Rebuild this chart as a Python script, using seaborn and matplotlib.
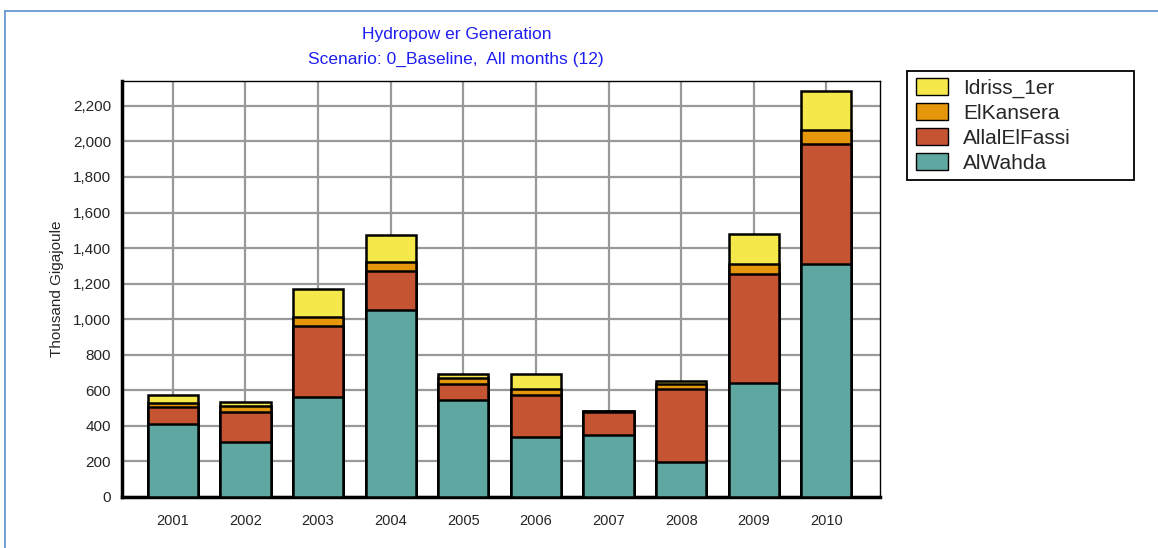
import numpy as np
import pandas as pd
import matplotlib
matplotlib.use("Agg")
import matplotlib.pyplot as plt
from matplotlib.patches import Patch, Rectangle
from matplotlib.lines import Line2D
import seaborn as sns

years = ["2001", "2002", "2003", "2004", "2005", "2006", "2007", "2008", "2009", "2010"]
alwahda = [410, 308, 561, 1050, 546, 340, 347, 197, 640, 1313]
allalelfassi = [95, 169, 403, 223, 90, 232, 133, 413, 615, 672]
elkansera = [25, 37, 49, 47, 32, 36, 2, 25, 56, 79]
idriss = [42, 22, 157, 151, 26, 86, 0, 20, 171, 222]

series_names = ["AlWahda", "AllalElFassi", "ElKansera", "Idriss_1er"]
series_vals = [alwahda, allalelfassi, elkansera, idriss]
colors = ["#5FA8A1", "#C55433", "#E6960B", "#F5E84B"]

sns.set_style("white")
plt.rcParams["font.family"] = ["Liberation Sans", "DejaVu Sans"]

W, H = 1158, 548
fig = plt.figure(figsize=(W / 100, H / 100), dpi=100)
ax = fig.add_axes([0.1054, 0.0931, 0.6546, 0.7591])

cum = np.cumsum(np.array(series_vals, dtype=float), axis=0)
# draw from top stack down so each segment is visible
for i in range(len(series_names) - 1, -1, -1):
    df = pd.DataFrame({"year": years, "value": cum[i]})
    sns.barplot(data=df, x="year", y="value", color=colors[i], width=0.69,
                edgecolor="black", linewidth=1.8, saturation=1, ax=ax, zorder=3)

ax.set_ylim(0, 2340)
ax.set_xlim(-0.70, 9.74)
yt = np.arange(0, 2201, 200)
ax.set_yticks(yt)
ax.set_yticklabels([f"{v:,}" for v in yt], fontsize=11)
ax.tick_params(axis="x", labelsize=10.5, length=6, color="#888888", width=1.5, direction="out", pad=6)
ax.tick_params(axis="y", length=4, color="#888888", width=1, direction="out", pad=4)
ax.set_xlabel("")
ax.set_ylabel("Thousand Gigajoule", fontsize=11, labelpad=6)
ax.grid(True, color="#999999", linewidth=1.6, zorder=0)
ax.set_axisbelow(True)
for side in ["top", "right"]:
    ax.spines[side].set_visible(True)
    ax.spines[side].set_linewidth(1.0)
    ax.spines[side].set_color("black")
for side in ["left", "bottom"]:
    ax.spines[side].set_linewidth(2.5)
    ax.spines[side].set_color("black")

fig.text(0.394, 1 - 35 / H, "Hydropow er Generation", ha="center", va="center",
         color="#1E1EF0", fontsize=12.5)
fig.text(0.394, 1 - 59 / H, "Scenario: 0_Baseline,  All months (12)", ha="center", va="center",
         color="#1E1EF0", fontsize=12.5)

# legend frame drawn as a rectangle to match the reference box
fig.add_artist(Rectangle((907 / W, 1 - 180 / H), (1134 - 907) / W, (180 - 71) / H,
                         transform=fig.transFigure, facecolor="white",
                         edgecolor="black", linewidth=1.3, zorder=1))
handles = [Patch(facecolor=colors[i], edgecolor="black", linewidth=1.0, label=series_names[i])
           for i in range(len(series_names) - 1, -1, -1)]
leg = fig.legend(handles=handles, loc="upper left", bbox_to_anchor=(916 / W, 1 - 78 / H),
                 frameon=False, fontsize=15, handlelength=1.55, handleheight=0.85,
                 labelspacing=0.26, borderpad=0, borderaxespad=0, handletextpad=0.7)
leg.set_zorder(2)

# outer light-blue window frame
fig.add_artist(Line2D([5 / W, 1.0], [1 - 11 / H, 1 - 11 / H],
                      transform=fig.transFigure, color="#5B8FD0", linewidth=1.2))
fig.add_artist(Line2D([5 / W, 5 / W], [1 - 11 / H, 0.0],
                      transform=fig.transFigure, color="#5B8FD0", linewidth=1.2))

fig.savefig("out.png", dpi=100)
